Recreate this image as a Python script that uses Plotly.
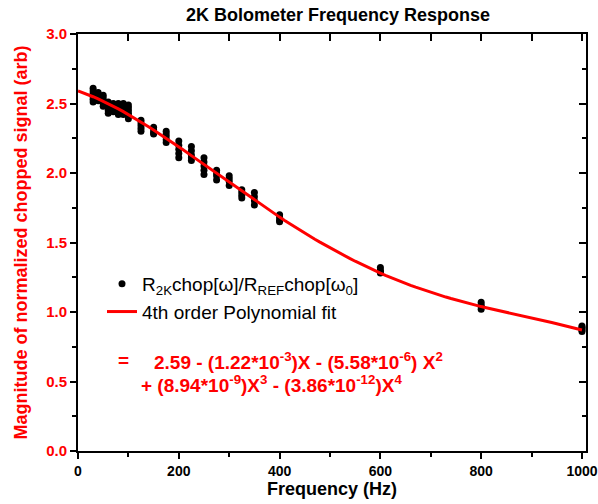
import plotly.graph_objects as go

# ---- data ----
freq_hz = [30, 40, 50, 60, 70, 80, 90, 100, 125, 150, 175, 200, 225, 250,
           275, 300, 325, 350, 400, 600, 800, 1000]
signal = [
    [2.61, 2.59, 2.57, 2.55, 2.53, 2.51],
    [2.58, 2.56, 2.54, 2.52],
    [2.56, 2.54, 2.52, 2.50, 2.48],
    [2.51, 2.49, 2.47, 2.45, 2.43],
    [2.50, 2.48, 2.46, 2.44],
    [2.50, 2.48, 2.46, 2.44, 2.42],
    [2.50, 2.48, 2.46, 2.44, 2.42],
    [2.49, 2.47, 2.45, 2.43, 2.41, 2.39],
    [2.38, 2.36, 2.34, 2.32, 2.30],
    [2.33, 2.31, 2.29, 2.28],
    [2.30, 2.28, 2.26, 2.24, 2.22],
    [2.23, 2.20, 2.17, 2.14, 2.11],
    [2.19, 2.16, 2.13, 2.11, 2.09],
    [2.11, 2.08, 2.05, 2.02, 1.99],
    [2.02, 2.00, 1.98, 1.95],
    [1.98, 1.96, 1.94, 1.91],
    [1.88, 1.86, 1.84, 1.82],
    [1.86, 1.83, 1.80, 1.77],
    [1.70, 1.68, 1.66, 1.65],
    [1.32, 1.30, 1.29, 1.28],
    [1.07, 1.05, 1.04, 1.02],
    [0.90, 0.89, 0.88, 0.87, 0.86],
]
# 4th order polynomial fit coefficients (from the chart's equation)
fit_coef = [2.59, -1.22e-3, -5.58e-6, 8.94e-9, -3.86e-12]
fit_x = list(range(0, 1001, 10))

x_ticks = [0, 200, 400, 600, 800, 1000]
y_ticks = [0.0, 0.5, 1.0, 1.5, 2.0, 2.5, 3.0]

pts_x, pts_y = [], []
for f, ys in zip(freq_hz, signal):
    for v in ys:
        pts_x.append(f)
        pts_y.append(v)

fit_y = [sum(c * (xv ** i) for i, c in enumerate(fit_coef)) for xv in fit_x]

FONT = "Liberation Sans, Arial, sans-serif"

# plot-area geometry (pixels)
L, R, T, B = 78, 12, 34, 53
W, H = 598, 504
XR = [0, 1008]
YR = [0, 3]
px_per_x = (W - L - R) / (XR[1] - XR[0])
px_per_y = (H - T - B) / (YR[1] - YR[0])


def dx(px):
    return (px - L) / px_per_x


def dy(py):
    return (H - B - py) / px_per_y


fig = go.Figure()
fig.add_trace(go.Scatter(
    x=pts_x, y=pts_y, mode="markers",
    marker=dict(color="black", size=7),
    name="R<sub>2K</sub>chop[ω]/R<sub>REF</sub>chop[ω<sub>0</sub>]",
))
fig.add_trace(go.Scatter(
    x=fit_x, y=fit_y, mode="lines",
    line=dict(color="#ff0000", width=3),
    name="4th order Polynomial fit",
))
# helper trace so the mirrored (inside-tick) axes are drawn
fig.add_trace(go.Scatter(
    x=[0, 1000], y=[0, 3], xaxis="x2", yaxis="y2", mode="lines",
    line=dict(width=0), opacity=0, showlegend=False, hoverinfo="skip",
))

fig.update_layout(
    width=W, height=H,
    margin=dict(l=L, r=R, t=T, b=B),
    paper_bgcolor="white", plot_bgcolor="white",
    font=dict(family=FONT, color="black"),
    title=dict(text="<b>2K Bolometer Frequency Response</b>",
               x=338 / W, xanchor="center", y=1 - 15 / H, yanchor="middle",
               font=dict(size=18, color="black", family=FONT)),
    showlegend=True,
    legend=dict(x=(102 - L) / (W - L - R), y=(H - B - 265) / (H - T - B),
                xanchor="left", yanchor="top",
                bgcolor="rgba(0,0,0,0)", font=dict(size=19, color="black", family=FONT),
                tracegroupgap=0),
    xaxis=dict(range=XR, showline=True, linecolor="black", linewidth=2, mirror=True,
               ticks="outside", ticklen=6, tickwidth=2, tickcolor="black",
               tickvals=x_ticks, ticktext=[f"<b>{v}</b>" for v in x_ticks],
               showgrid=False, zeroline=False, automargin=False,
               tickfont=dict(size=14, color="black", family=FONT),
               minor=dict(ticks="outside", ticklen=4, tickwidth=2, tickcolor="black", dtick=100,
                          showgrid=False),
               title=dict(text="<b>Frequency (Hz)</b>", font=dict(size=18, color="black", family=FONT),
                          standoff=4)),
    yaxis=dict(range=YR, showline=True, linecolor="black", linewidth=2, mirror=True,
               ticks="outside", ticklen=6, tickwidth=2, tickcolor="black",
               tickvals=y_ticks, ticktext=[f"<b>{v:.1f}</b>" for v in y_ticks],
               showgrid=False, zeroline=False, automargin=False,
               tickfont=dict(size=15, color="#ff0000", family=FONT),
               minor=dict(ticks="outside", ticklen=4, tickwidth=2, tickcolor="black", dtick=0.25,
                          showgrid=False),
               title=dict(text="<b>Magnitude of normalized chopped signal (arb)</b>",
                          font=dict(size=18, color="#ff0000", family=FONT), standoff=14)),
    xaxis2=dict(range=XR, overlaying="x", side="top", anchor="y", showline=False,
                ticks="inside", ticklen=7, tickwidth=2, tickcolor="black", automargin=False,
                dtick=100, tick0=0, showticklabels=False, showgrid=False, zeroline=False),
    yaxis2=dict(range=YR, overlaying="y", side="right", anchor="x", showline=False,
                ticks="inside", ticklen=7, tickwidth=2, tickcolor="black", automargin=False,
                tickvals=y_ticks, showticklabels=False, showgrid=False, zeroline=False,
                minor=dict(ticks="inside", ticklen=4, tickwidth=2, tickcolor="black", dtick=0.25)),
)

EQ_FONT = dict(size=19, color="#ff0000", family=FONT)
fig.add_annotation(x=dx(116), y=dy(360.5), xref="x", yref="y",
                   text="<b>=</b>", showarrow=False, xanchor="left", yanchor="middle", font=EQ_FONT)
fig.add_annotation(x=dx(152), y=dy(360.5), xref="x", yref="y",
                   text="<b>2.59 - (1.22*10<sup>-3</sup>)X - (5.58*10<sup>-6</sup>) X<sup>2</sup></b>",
                   showarrow=False, xanchor="left", yanchor="middle", font=EQ_FONT)
fig.add_annotation(x=dx(139), y=dy(384), xref="x", yref="y",
                   text="<b>+ (8.94*10<sup>-9</sup>)X<sup>3</sup> - (3.86*10<sup>-12</sup>)X<sup>4</sup></b>",
                   showarrow=False, xanchor="left", yanchor="middle", font=EQ_FONT)

fig.write_html("out.html",
               config={"displayModeBar": False},
               post_script="document.body.style.margin='0';document.body.style.overflow='hidden';")
